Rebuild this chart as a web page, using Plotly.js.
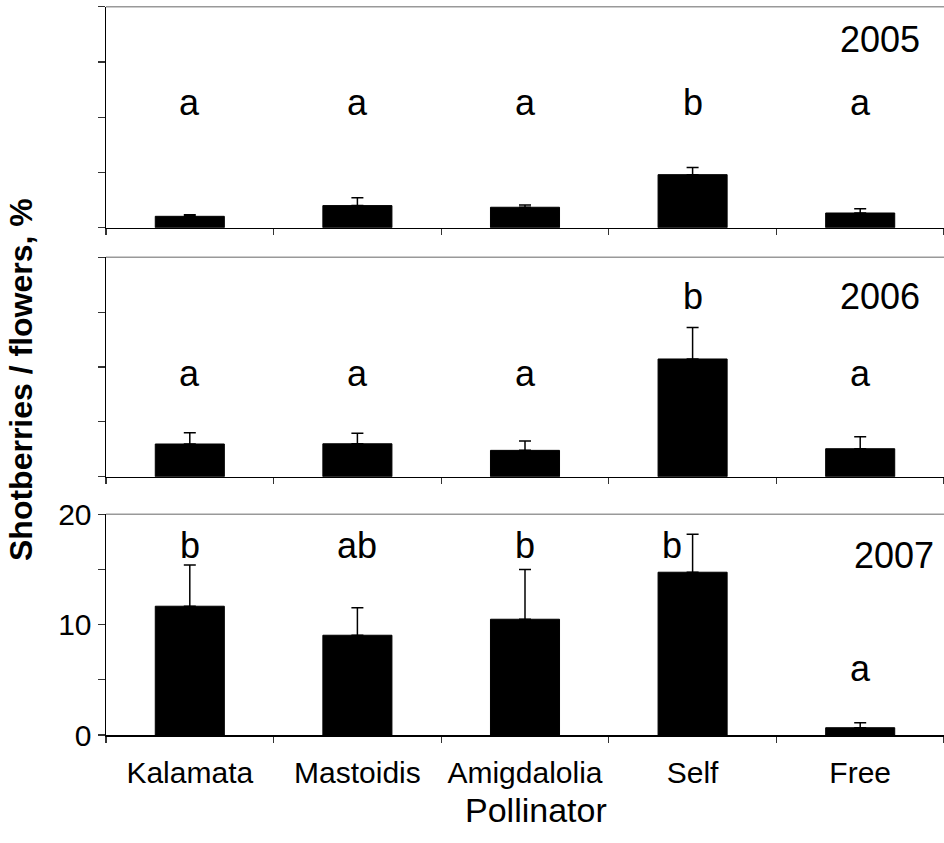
<!DOCTYPE html>
<html>
<head>
<meta charset="utf-8">
<script src="https://cdn.plot.ly/plotly-3.0.1.min.js"></script>
<style>html,body{margin:0;padding:0;background:#fff;}#chart{width:944px;height:843px;}</style>
</head>
<body>
<div id="chart"></div>
<script>
// ---- data ----
const categories = ['Kalamata', 'Mastoidis', 'Amigdalolia', 'Self', 'Free'];
const years = ['2005', '2006', '2007'];

const mean2005 = [1.03, 2.0, 1.85, 4.8, 1.33];
const err2005  = [0.15, 0.7, 0.2, 0.64, 0.39];
const mean2006 = [2.98, 3.0, 2.4, 10.73, 2.55];
const err2006  = [1.02, 0.95, 0.85, 2.87, 1.1];
const mean2007 = [11.67, 9.04, 10.49, 14.75, 0.66];
const err2007  = [3.73, 2.5, 4.51, 3.45, 0.44];

const letters2005 = ['a', 'a', 'a', 'b', 'a'];
const letters2006 = ['a', 'a', 'a', 'b', 'a'];
const letters2007 = ['b', 'ab', 'b', 'b', 'a'];

const yTickVals = [0, 5, 10, 15, 20];
const yTickText = ['0', '', '10', '', '20'];

// ---- layout helpers ----
const FONT = 'Liberation Sans, Arial, Helvetica, sans-serif';
const H = 843;
const panels = [
  {mean: mean2005, err: err2005, letters: letters2005, year: years[0], top: 6.7, bottom: 227.7,
   letterY: [11.3, 11.3, 11.3, 11.3, 11.3], yearY: 17.0, yearX: 4.12},
  {mean: mean2006, err: err2006, letters: letters2006, year: years[1], top: 257.3, bottom: 476.7,
   letterY: [9.43, 9.43, 9.43, 16.45, 9.43], yearY: 16.4, yearX: 4.12},
  {mean: mean2007, err: err2007, letters: letters2007, year: years[2], top: 514.3, bottom: 735,
   letterY: [17.2, 17.2, 17.2, 17.2, 6.06], yearY: 16.25, yearX: 4.2, letterX: [0, 1, 2, 2.877, 4]}
];

const traces = [];
const layout = {
  width: 944, height: 843,
  margin: {l: 106, r: 0, t: 0, b: 0},
  paper_bgcolor: '#fff', plot_bgcolor: '#fff',
  showlegend: false,
  bargap: 0.588,
  font: {family: FONT, color: '#000'},
  annotations: [], shapes: []
};

panels.forEach((p, i) => {
  const n = i + 1;
  const xa = 'x' + (n === 1 ? '' : n), ya = 'y' + (n === 1 ? '' : n);
  traces.push({
    type: 'bar', x: categories, y: p.mean, xaxis: xa, yaxis: ya,
    marker: {color: '#000', line: {color: '#000', width: 1}},
    error_y: {type: 'data', symmetric: false, array: p.err, arrayminus: p.err.map(() => 0),
              color: '#000', thickness: 1.5, width: 6},
    hoverinfo: 'skip'
  });
  const last = (n === 3);
  layout['xaxis' + (n === 1 ? '' : n)] = {
    domain: [0, 1], anchor: ya, type: 'category', range: [-0.5, 4.5],
    showline: true, linecolor: '#000', linewidth: 1.5,
    ticks: 'outside', tickson: 'boundaries', ticklen: 6, tickwidth: 1.2, tickcolor: '#333',
    showticklabels: last, tickangle: 0, tickfont: {size: 30, family: FONT, color: '#000'},
    ticklabelstandoff: 10,
    showgrid: false, zeroline: false, fixedrange: true
  };
  layout['yaxis' + (n === 1 ? '' : n)] = {
    domain: [1 - p.bottom / H, 1 - p.top / H], anchor: xa, range: [0, 20],
    showline: true, linecolor: '#000', linewidth: 1.5,
    ticks: 'outside', ticklen: 7, tickwidth: 1.2, tickcolor: '#333',
    tickvals: yTickVals, ticktext: last ? yTickText : yTickVals.map(() => ''),
    tickfont: {size: 30, family: FONT, color: '#000'},
    showgrid: false, zeroline: false, fixedrange: true
  };
  // top frame line (gray)
  layout.shapes.push({type: 'line', xref: 'paper', yref: ya + ' domain', x0: 0, x1: 1, y0: 1, y1: 1,
                      line: {color: '#999', width: 1.5}});
  // significance letters
  p.letters.forEach((t, j) => {
    layout.annotations.push({
      xref: xa, yref: ya, x: p.letterX ? p.letterX[j] : j, y: p.letterY[j],
      text: t, showarrow: false, xanchor: 'center', yanchor: 'middle',
      font: {size: 36, family: FONT, color: '#000'}
    });
  });
  // year label
  layout.annotations.push({
    xref: xa, yref: ya, x: p.yearX, y: p.yearY, text: p.year, showarrow: false,
    xanchor: 'center', yanchor: 'middle', font: {size: 36, family: FONT, color: '#000'}
  });
});

// axis titles
layout.annotations.push({
  xref: 'paper', yref: 'paper', x: 0.5137, y: 1 - 810 / H, text: 'Pollinator', showarrow: false,
  xanchor: 'center', yanchor: 'middle', font: {size: 34, family: FONT, color: '#000'}
});
layout.annotations.push({
  xref: 'paper', yref: 'paper', x: (21 - 106) / 838, y: 1 - 380 / H,
  text: '<b>Shotberries / flowers, %</b>', showarrow: false, textangle: -90,
  xanchor: 'center', yanchor: 'middle', font: {size: 32, family: FONT, color: '#000'}
});

Plotly.newPlot('chart', traces, layout, {staticPlot: true, displayModeBar: false});
</script>
</body>
</html>
